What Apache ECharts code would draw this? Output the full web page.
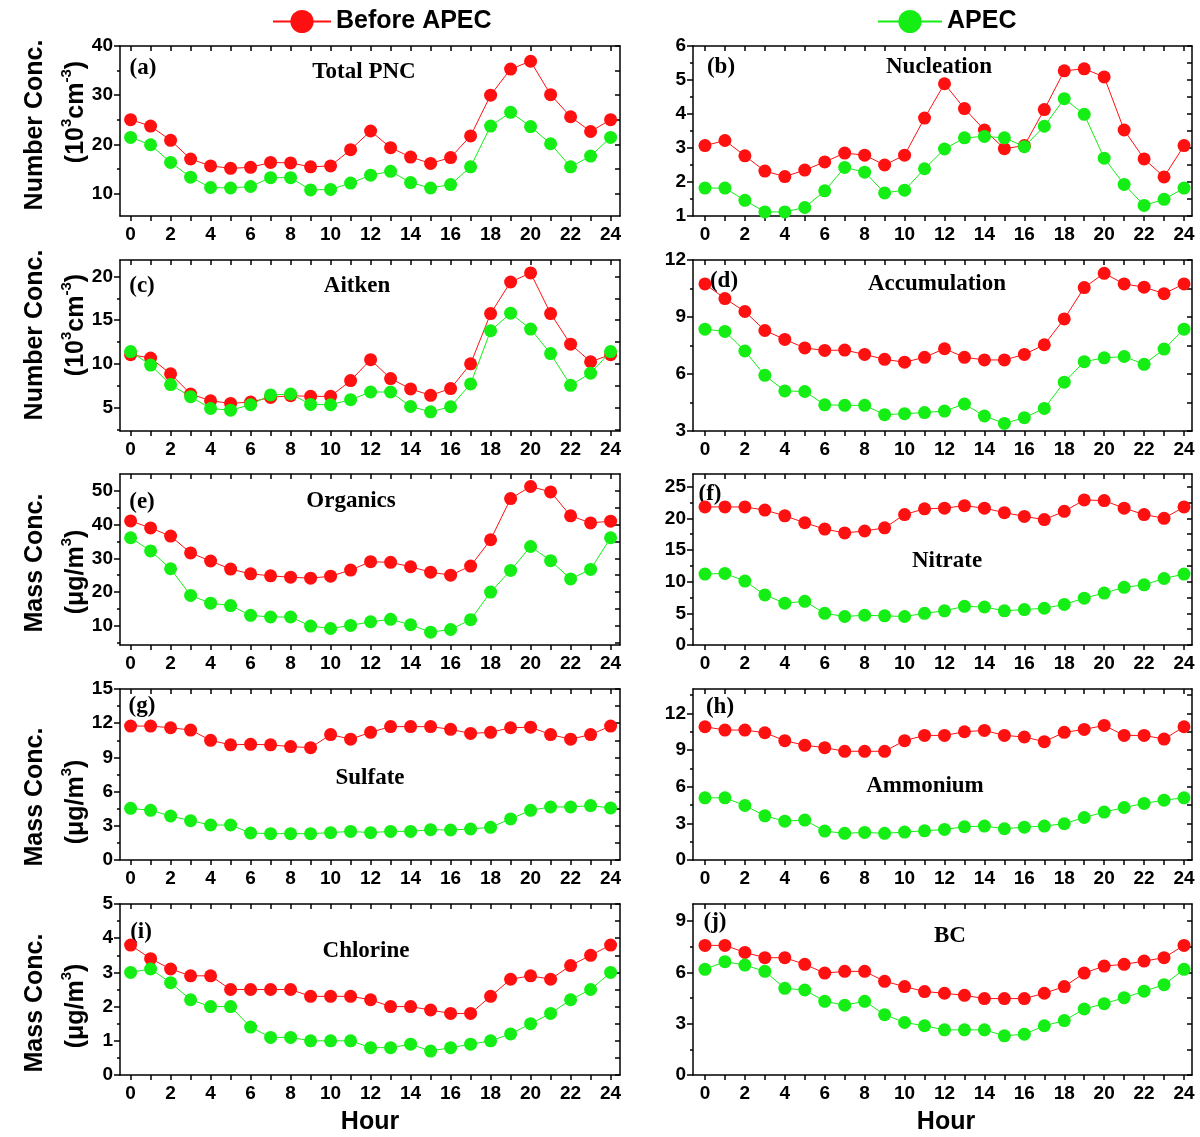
<!DOCTYPE html>
<html><head><meta charset="utf-8">
<script src="https://cdn.jsdelivr.net/npm/echarts@6/dist/echarts.min.js"></script>
<style>html,body{margin:0;padding:0;background:#fff}#c{width:1200px;height:1137px}</style>
</head><body><div id="c"></div>
<script>
// ---------------- DATA ----------------
const hours = [0,1,2,3,4,5,6,7,8,9,10,11,12,13,14,15,16,17,18,19,20,21,22,23,24];
const hourLabels = [0,2,4,6,8,10,12,14,16,18,20,22,24];
const seriesNames = ['Before APEC', 'APEC'];
const panelLetters = ['(a)','(b)','(c)','(d)','(e)','(f)','(g)','(h)','(i)','(j)'];
const panelTitles = ['Total PNC','Nucleation','Aitken','Accumulation','Organics','Nitrate','Sulfate','Ammonium','Chlorine','BC'];

const beforeA = [25.0,23.7,20.8,17.0,15.6,15.1,15.3,16.3,16.2,15.4,15.6,18.9,22.7,19.3,17.4,16.1,17.3,21.7,30.0,35.3,36.9,30.1,25.6,22.6,25.0];
const apecA   = [21.4,19.9,16.3,13.3,11.2,11.1,11.4,13.2,13.2,10.7,10.8,12.1,13.7,14.5,12.2,11.1,11.8,15.4,23.7,26.5,23.6,20.1,15.4,17.6,21.4];
const beforeB = [3.07,3.22,2.77,2.32,2.16,2.35,2.59,2.85,2.79,2.50,2.79,3.88,4.89,4.16,3.53,2.98,3.07,4.13,5.27,5.33,5.09,3.53,2.68,2.15,3.07];
const apecB   = [1.82,1.82,1.46,1.12,1.12,1.25,1.74,2.43,2.29,1.68,1.76,2.39,2.97,3.30,3.34,3.30,3.04,3.64,4.45,3.99,2.70,1.93,1.31,1.49,1.82];
const beforeC = [11.05,10.67,8.85,6.54,5.77,5.46,5.62,6.15,6.35,6.27,6.27,8.08,10.47,8.31,7.12,6.39,7.16,10.0,15.76,19.38,20.42,15.76,12.25,10.24,11.05];
const apecC   = [11.4,9.86,7.62,6.23,4.88,4.69,5.31,6.43,6.54,5.35,5.31,5.89,6.77,6.77,5.11,4.5,5.08,7.70,13.79,15.8,13.98,11.17,7.54,8.93,11.4];
const beforeD = [10.74,9.97,9.29,8.29,7.82,7.37,7.24,7.26,7.03,6.77,6.62,6.88,7.33,6.88,6.74,6.74,7.03,7.54,8.90,10.55,11.30,10.74,10.57,10.23,10.74];
const apecD   = [8.36,8.24,7.21,5.93,5.11,5.08,4.38,4.35,4.35,3.86,3.91,3.97,4.05,4.42,3.79,3.40,3.70,4.19,5.57,6.65,6.85,6.92,6.51,7.31,8.36];
const beforeE = [41.1,39.0,36.6,31.6,29.2,26.8,25.4,24.8,24.4,24.1,24.7,26.5,29.0,28.8,27.5,25.9,25.0,27.7,35.5,47.7,51.3,49.7,42.6,40.5,41.0];
const apecE   = [36.1,32.2,26.9,19.0,16.7,16.0,13.1,12.6,12.6,9.9,9.2,10.1,11.2,11.9,10.3,8.1,8.9,11.8,20.0,26.4,33.5,29.3,23.9,26.7,36.1];
const beforeF = [21.8,21.8,21.8,21.3,20.4,19.3,18.3,17.7,18.0,18.5,20.6,21.5,21.6,22.0,21.6,20.9,20.3,19.8,21.1,22.9,22.8,21.6,20.6,20.0,21.8];
const apecF   = [11.2,11.3,10.1,7.9,6.6,6.9,5.0,4.5,4.7,4.6,4.5,5.0,5.4,6.1,6.0,5.4,5.6,5.8,6.4,7.4,8.2,9.1,9.5,10.5,11.2];
const beforeG = [11.75,11.75,11.6,11.4,10.5,10.1,10.15,10.1,9.95,9.85,11.0,10.6,11.2,11.7,11.7,11.7,11.46,11.1,11.2,11.6,11.65,11.0,10.6,11.0,11.75];
const apecG   = [4.53,4.36,3.86,3.45,3.07,3.07,2.37,2.31,2.31,2.31,2.4,2.51,2.4,2.51,2.51,2.66,2.63,2.72,2.87,3.6,4.36,4.65,4.65,4.77,4.56];
const beforeH = [10.91,10.64,10.64,10.42,9.77,9.39,9.2,8.9,8.9,8.9,9.77,10.2,10.2,10.5,10.61,10.2,10.07,9.69,10.45,10.69,11.02,10.2,10.2,9.9,10.91];
const apecH   = [5.09,5.09,4.46,3.62,3.18,3.27,2.37,2.18,2.26,2.18,2.29,2.39,2.5,2.72,2.78,2.56,2.69,2.78,2.97,3.48,3.92,4.3,4.63,4.9,5.09];
const beforeI = [3.8,3.4,3.1,2.9,2.9,2.5,2.5,2.5,2.5,2.3,2.3,2.3,2.2,2.0,2.0,1.9,1.8,1.8,2.3,2.8,2.9,2.8,3.2,3.5,3.8];
const apecI   = [3.0,3.1,2.7,2.2,2.0,2.0,1.4,1.1,1.1,1.0,1.0,1.0,0.8,0.8,0.9,0.7,0.8,0.9,1.0,1.2,1.5,1.8,2.2,2.5,3.0];
const beforeJ = [7.58,7.58,7.17,6.86,6.86,6.47,5.96,6.06,6.06,5.48,5.17,4.88,4.78,4.66,4.47,4.47,4.47,4.78,5.17,5.96,6.37,6.47,6.66,6.86,7.58];
const apecJ   = [6.18,6.63,6.43,6.06,5.07,4.97,4.31,4.08,4.31,3.53,3.07,2.88,2.64,2.64,2.64,2.29,2.39,2.88,3.18,3.86,4.17,4.52,4.9,5.28,6.18];

// y-axis tick labels per panel
const yTicksA = [10,20,30,40];
const yTicksB = [1,2,3,4,5,6];
const yTicksC = [5,10,15,20];
const yTicksD = [3,6,9,12];
const yTicksE = [10,20,30,40,50];
const yTicksF = [0,5,10,15,20,25];
const yTicksG = [0,3,6,9,12,15];
const yTicksH = [0,3,6,9,12];
const yTicksI = [0,1,2,3,4,5];
const yTicksJ = [0,3,6,9];
// y-axis ranges per panel
const yRangeA = [5.4,40], yRangeB = [1,6], yRangeC = [2.3,21.9], yRangeD = [3,12], yRangeE = [4.3,55];
const yRangeF = [0,27], yRangeG = [0,15], yRangeH = [0,14], yRangeI = [0,5], yRangeJ = [0,10];

// ---------------- LAYOUT / STYLE ----------------
const panels = [
  [beforeA, apecA, yTicksA, yRangeA], [beforeB, apecB, yTicksB, yRangeB],
  [beforeC, apecC, yTicksC, yRangeC], [beforeD, apecD, yTicksD, yRangeD],
  [beforeE, apecE, yTicksE, yRangeE], [beforeF, apecF, yTicksF, yRangeF],
  [beforeG, apecG, yTicksG, yRangeG], [beforeH, apecH, yTicksH, yRangeH],
  [beforeI, apecI, yTicksI, yRangeI], [beforeJ, apecJ, yTicksJ, yRangeJ]
];
const colLayout = [{left:120, width:500, xr:[-0.53,24.47]}, {left:693, width:499, xr:[-0.6,24.4]}];
const rowTops = [46, 260, 474, 689, 904];
const rowHeights = [170, 171, 171, 171, 171];
const RED = '#ff1010', GREEN = '#14ee14';
const SANS = 'Liberation Sans', SERIF = 'Liberation Serif';
const letterPos = [[143,68],[721,67],[142,286],[724,281],[142,502],[710,494],[142,706],[720,707],[141,932],[715,922]];
const titlePos  = [[364,72],[939,67],[357,286],[937,284],[351,501],[947,561],[370,778],[925,786],[366,951],[950,936]];

const grid = [], xAxis = [], yAxis = [], series = [];
const tickStyle = {color:'#000', width:1.5};
panels.forEach((p, i) => {
  const col = i % 2, row = Math.floor(i / 2);
  const cl = colLayout[col];
  grid.push({left: cl.left, width: cl.width, top: rowTops[row], height: rowHeights[row], containLabel:false});
  const [lo, hi] = p[3];
  const majors = p[2];
  const step = majors[1] - majors[0];
  const minors = [];
  for (let k = 0; k <= majors.length; k++) {
    const v = (k < majors.length ? majors[k] : majors[majors.length-1] + step) - step/2;
    if (v > lo + 1e-6 && v < hi - 1e-6) minors.push(v);
  }
  // bottom x axis
  xAxis.push({type:'value', gridIndex:i, position:'bottom', min:cl.xr[0], max:cl.xr[1],
    axisLine:{show:true, onZero:false, lineStyle:tickStyle},
    axisTick:{show:true, inside:false, length:5, customValues:hours, lineStyle:tickStyle},
    axisLabel:{show:true, customValues:hourLabels, margin:9, fontSize:19, fontWeight:'bold', fontFamily:SANS, color:'#000'},
    splitLine:{show:false}});
  // top mirror x axis
  xAxis.push({type:'value', gridIndex:i, position:'top', min:cl.xr[0], max:cl.xr[1],
    axisLine:{show:true, onZero:false, lineStyle:tickStyle},
    axisTick:{show:true, inside:true, length:5, customValues:hours, lineStyle:tickStyle},
    axisLabel:{show:false}, splitLine:{show:false}});
  // left major y axis
  yAxis.push({type:'value', gridIndex:i, position:'left', min:lo, max:hi,
    axisLine:{show:true, onZero:false, lineStyle:tickStyle},
    axisTick:{show:true, inside:false, length:6, customValues:majors, lineStyle:tickStyle},
    axisLabel:{show:true, customValues:majors, margin:7, fontSize:19, fontWeight:'bold', fontFamily:SANS, color:'#000'},
    splitLine:{show:false}});
  // left minor ticks
  yAxis.push({type:'value', gridIndex:i, position:'left', min:lo, max:hi,
    axisLine:{show:false, onZero:false},
    axisTick:{show:true, inside:false, length:3, customValues:minors, lineStyle:tickStyle},
    axisLabel:{show:false}, splitLine:{show:false}});
  // right mirror y axis
  yAxis.push({type:'value', gridIndex:i, position:'right', min:lo, max:hi,
    axisLine:{show:true, onZero:false, lineStyle:tickStyle},
    axisTick:{show:true, inside:true, length:5, customValues:majors.concat(minors).filter(v=>v>=lo&&v<=hi), lineStyle:tickStyle},
    axisLabel:{show:false}, splitLine:{show:false}});
  [p[0], p[1]].forEach((vals, s) => {
    const c = s === 0 ? RED : GREEN;
    series.push({type:'line', name:seriesNames[s], xAxisIndex:2*i, yAxisIndex:3*i,
      data: hours.map((h, k) => [h, vals[k]]),
      symbol:'circle', symbolSize:13, showSymbol:true, showAllSymbol:true,
      lineStyle:{color:c, width:1}, itemStyle:{color:c, borderWidth:0},
      z: 2 + s, emphasis:{disabled:true}});
  });
});

const graphics = [];
panels.forEach((p, i) => {
  graphics.push({type:'text', x:letterPos[i][0], y:letterPos[i][1],
    style:{text:panelLetters[i], fontFamily:SERIF, fontWeight:'bold', fontSize:23, fill:'#000', align:'center', verticalAlign:'middle'}});
  graphics.push({type:'text', x:titlePos[i][0], y:titlePos[i][1],
    style:{text:panelTitles[i], fontFamily:SERIF, fontWeight:'bold', fontSize:23, fill:'#000', align:'center', verticalAlign:'middle'}});
});
const nameRich = {
  n:{fontFamily:SANS, fontWeight:'bold', fontSize:25, fill:'#000', verticalAlign:'bottom', lineHeight:30},
  s:{fontFamily:SANS, fontWeight:'bold', fontSize:15, fill:'#000', verticalAlign:'top', lineHeight:30}
};
const yNames = [
  ['Number Conc.', '{n|(10}{s|3}{n|cm}{s|-3}{n|)}', 125, 112],
  ['Number Conc.', '{n|(10}{s|3}{n|cm}{s|-3}{n|)}', 335, 325],
  ['Mass Conc.', '{n|(μg/m}{s|3}{n|)}', 563, 572],
  ['Mass Conc.', '{n|(μg/m}{s|3}{n|)}', 797, 802],
  ['Mass Conc.', '{n|(μg/m}{s|3}{n|)}', 1003, 1006]
];
yNames.forEach(r => {
  graphics.push({type:'text', x:35, y:r[2], rotation:Math.PI/2,
    style:{text:r[0], fontFamily:SANS, fontWeight:'bold', fontSize:25, fill:'#000', align:'center', verticalAlign:'middle'}});
  graphics.push({type:'text', x:74, y:r[3], rotation:Math.PI/2,
    style:{text:r[1], rich:nameRich, align:'center', verticalAlign:'middle'}});
});
graphics.push({type:'text', x:370, y:1122, style:{text:'Hour', fontFamily:SANS, fontWeight:'bold', fontSize:25, fill:'#000', align:'center', verticalAlign:'middle'}});
graphics.push({type:'text', x:946, y:1122, style:{text:'Hour', fontFamily:SANS, fontWeight:'bold', fontSize:25, fill:'#000', align:'center', verticalAlign:'middle'}});

const legendText = {fontSize:25, fontWeight:'bold', fontFamily:SANS, color:'#000'};
const option = {
  animation:false,
  backgroundColor:'#fff',
  legend:[
    {data:[seriesNames[0]], left:267, top:4, itemWidth:58, itemHeight:29, selectedMode:false, textStyle:legendText},
    {data:[seriesNames[1]], left:872, top:4, itemWidth:64, itemHeight:29, selectedMode:false, textStyle:legendText}
  ],
  grid, xAxis, yAxis, series,
  graphic: graphics
};
const chart = echarts.init(document.getElementById('c'), null, {renderer:'canvas'});
chart.setOption(option);
</script></body></html>
